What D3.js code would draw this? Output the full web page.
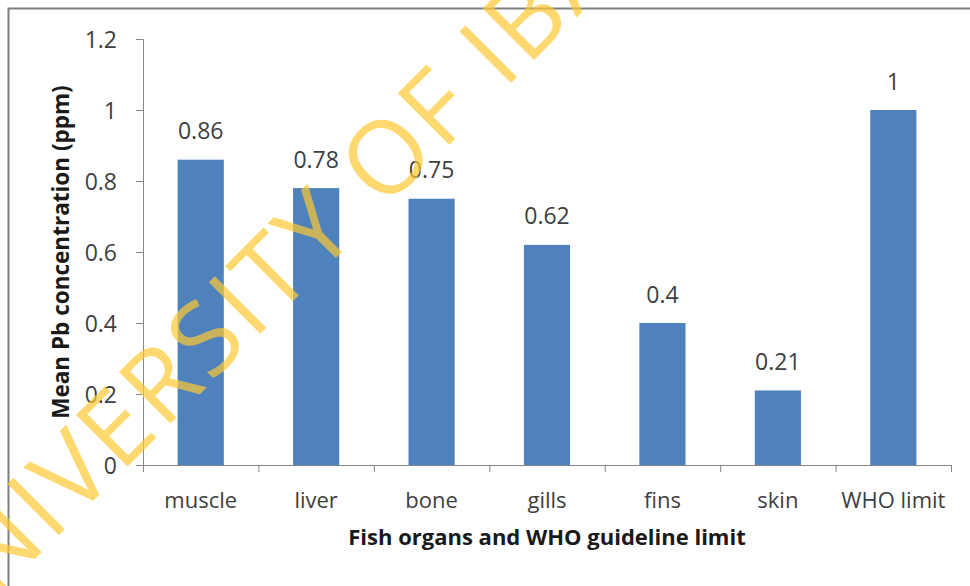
<!DOCTYPE html>
<svg width="970" height="586"></svg>
<script src="https://d3js.org/d3.v7.min.js"></script>
<style>
  body {
    margin: 0;
    background: #fff;
  }
  text {
    font-family: "Open Sans", sans-serif;
  }
  .axis path, .axis line {
    stroke: #868686;
  }
  .axis text {
    fill: #404040;
    font-size: 22px;
  }
  .y.axis text {
    font-size: 23px;
  }
</style>
<script>
// lead (Pb) in fish organs against the WHO limit
var organs = ["muscle", "liver", "bone", "gills", "fins", "skin", "WHO limit"];
var pbValues = [0.86, 0.78, 0.75, 0.62, 0.4, 0.21, 1];
var yTicks = [0, 0.2, 0.4, 0.6, 0.8, 1, 1.2];

var svg = d3.select("svg"),
    margin = {top: 39, right: 19, bottom: 121, left: 143},
    width = +svg.attr("width") - margin.left - margin.right,
    height = +svg.attr("height") - margin.top - margin.bottom;

// frame of the chart area (only top and left edges fall inside the picture)
svg.append("rect")
    .attr("x", 8.5)
    .attr("y", 8.5)
    .attr("width", 1000)
    .attr("height", 1000)
    .attr("fill", "none")
    .attr("stroke", "#7f7f7f")
    .attr("stroke-width", 2);

var g = svg.append("g").attr("transform", "translate(" + margin.left + "," + margin.top + ")");

var x = d3.scaleBand()
    .domain(organs)
    .range([0, width])
    .paddingInner(0.6)
    .paddingOuter(0.3);

var y = d3.scaleLinear()
    .domain([0, 1.2])
    .range([height, 0]);

// category boundaries for the tick marks
var xEdges = d3.scaleLinear()
    .domain([0, organs.length])
    .range([0, width]);

g.append("g")
    .attr("class", "y axis")
    .call(d3.axisLeft(y).tickValues(yTicks).tickSize(7).tickPadding(19)
      .tickFormat(function(d) { return d3.format("~g")(d); }))
    .selectAll("text")
    .attr("dy", "0.36em");

g.append("g")
    .attr("class", "bars")
  .selectAll("rect")
  .data(pbValues)
  .enter().append("rect")
    .attr("x", function(d, i) { return x(organs[i]); })
    .attr("y", function(d) { return y(d); })
    .attr("width", x.bandwidth())
    .attr("height", function(d) { return height - y(d); })
    .attr("fill", "#4f81bd");

g.append("g")
    .attr("class", "x axis")
    .attr("transform", "translate(0," + height + ")")
    .call(d3.axisBottom(xEdges).tickValues(d3.range(organs.length + 1)).tickSize(7).tickSizeOuter(0)
      .tickFormat(""));

g.append("g")
    .attr("class", "axis")
  .selectAll("text")
  .data(organs)
  .enter().append("text")
    .attr("x", function(d) { return x(d) + x.bandwidth() / 2; })
    .attr("y", height + 43)
    .attr("text-anchor", "middle")
    .text(function(d) { return d; });

// value labels
g.append("g")
  .selectAll("text")
  .data(pbValues)
  .enter().append("text")
    .attr("x", function(d, i) { return x(organs[i]) + x.bandwidth() / 2; })
    .attr("y", function(d) { return y(d) - 20.5; })
    .attr("text-anchor", "middle")
    .attr("fill", "#404040")
    .style("font-size", "23px")
    .text(function(d) { return d; });

g.append("text")
    .attr("x", width / 2)
    .attr("y", height + 80)
    .attr("text-anchor", "middle")
    .attr("fill", "#1a1a1a")
    .style("font-size", "22px")
    .style("font-weight", "bold")
    .text("Fish organs and WHO guideline limit");

g.append("text")
    .attr("transform", "translate(" + (69 - margin.left) + "," + (height / 2) + ") rotate(-90)")
    .attr("text-anchor", "middle")
    .attr("fill", "#1a1a1a")
    .style("font-size", "22.5px")
    .style("font-weight", "bold")
    .text("Mean Pb concentration (ppm)");

// diagonal watermark
var wm = svg.append("text")
    .attr("fill", "rgb(255,202,51)")
    .attr("opacity", 0.7)
    .style("font-size", "102px")
    .style("letter-spacing", "4px")
    .text("UNIVERSITY OF IBADAN");

var node = wm.node();
var iStart = node.getStartPositionOfChar(14).x,
    iEnd = node.getEndPositionOfChar(14).x,
    iMid = (iStart + iEnd) / 2 - 2;
wm.attr("transform", "translate(514,80) rotate(-45) translate(" + (-iMid) + ",0)");
</script>
